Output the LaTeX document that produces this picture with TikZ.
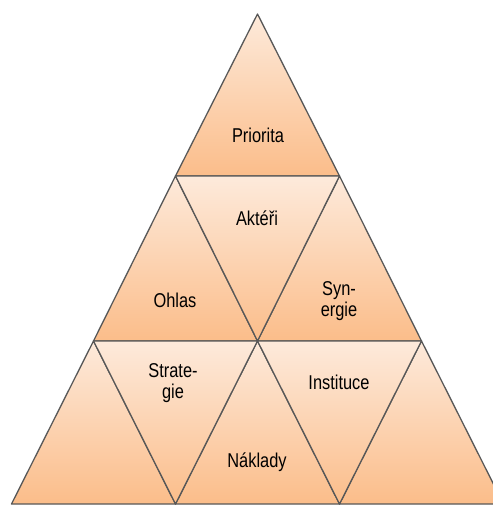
\documentclass[tikz,border=0pt]{standalone}
\usepackage{fontspec}
\newfontfamily\labelfont{Liberation Sans}[FakeStretch=0.82]
\definecolor{peachlight}{RGB}{253,234,219}
\definecolor{peachdark}{RGB}{251,189,138}
\definecolor{edgegray}{RGB}{88,88,88}
\begin{document}
\begin{tikzpicture}[
    x=1pt, y=-1pt,
    tri/.style={draw=edgegray, line width=1.3pt, line join=round, top color=peachlight, bottom color=peachdark},
    lbl/.style={font=\labelfont\fontsize{20}{21}\selectfont, align=center, inner sep=0pt}
]
\useasboundingbox (0,0) rectangle (492,505);

% corners of the rows
\coordinate (top) at (257.5,14);
\coordinate (a1) at (175.5,176);
\coordinate (b1) at (339.5,176);
\coordinate (a2) at (93.5,341);
\coordinate (b2) at (257.5,341);
\coordinate (c2) at (421.5,341);
\coordinate (a3) at (11.5,504);
\coordinate (b3) at (175.5,504);
\coordinate (c3) at (339.5,504);
\coordinate (d3) at (503.5,504);

% triangles pointing up
\draw[tri] (top) -- (a1) -- (b1) -- cycle;
\draw[tri] (a1) -- (a2) -- (b2) -- cycle;
\draw[tri] (b1) -- (b2) -- (c2) -- cycle;
\draw[tri] (a2) -- (a3) -- (b3) -- cycle;
\draw[tri] (b2) -- (b3) -- (c3) -- cycle;
\draw[tri] (c2) -- (c3) -- (d3) -- cycle;

% triangles pointing down
\draw[tri] (a1) -- (b1) -- (b2) -- cycle;
\draw[tri] (a2) -- (b2) -- (b3) -- cycle;
\draw[tri] (b2) -- (c2) -- (c3) -- cycle;

% labels
\node[lbl] (priorita) at (258,135) {Priorita};
\node[lbl] (akteri) at (257,218) {Aktéři};
\node[lbl] (ohlas) at (175,300) {Ohlas};
\node[lbl] (synergie) at (339,301) {Syn-\\ergie};
\node[lbl] (strategie) at (173,383) {Strate-\\gie};
\node[lbl] (instituce) at (339,382) {Instituce};
\node[lbl] (naklady) at (257,462) {Náklady};

\end{tikzpicture}
\end{document}
